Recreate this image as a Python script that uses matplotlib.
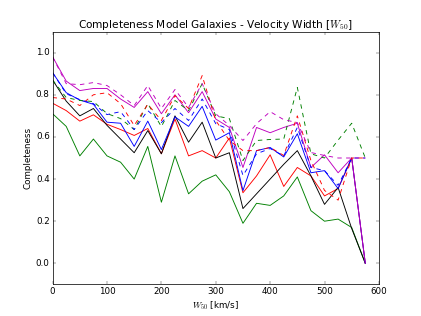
import matplotlib
matplotlib.use('Agg')
import matplotlib.pyplot as plt

plt.style.use('classic')

# velocity width bins [km/s]
w50 = [0, 25, 50, 75, 100, 125, 150, 175, 200, 225, 250, 275,
       300, 325, 350, 375, 400, 425, 450, 475, 500, 525, 550, 575]

# solid curves
green_solid = [0.71, 0.65, 0.51, 0.59, 0.51, 0.48, 0.40, 0.555, 0.29, 0.51, 0.33, 0.39,
               0.42, 0.34, 0.19, 0.285, 0.275, 0.32, 0.41, 0.25, 0.20, 0.21, 0.17, 0.0]
red_solid = [0.76, 0.725, 0.675, 0.705, 0.66, 0.635, 0.607, 0.64, 0.52, 0.685, 0.51, 0.535,
             0.50, 0.595, 0.335, 0.415, 0.515, 0.365, 0.455, 0.415, 0.32, 0.355, 0.5, 0.0]
black_solid = [0.87, 0.77, 0.70, 0.735, 0.655, 0.59, 0.525, 0.63, 0.52, 0.70, 0.575, 0.67,
               0.50, 0.525, 0.26, 0.33, 0.40, 0.47, 0.535, 0.415, 0.28, 0.36, 0.165, 0.0]
blue_solid = [0.905, 0.81, 0.775, 0.755, 0.67, 0.665, 0.555, 0.675, 0.54, 0.695, 0.65, 0.745,
              0.585, 0.62, 0.345, 0.535, 0.55, 0.505, 0.615, 0.43, 0.44, 0.355, 0.5, 0.0]
magenta_solid = [0.98, 0.865, 0.82, 0.83, 0.83, 0.78, 0.74, 0.815, 0.71, 0.80, 0.715, 0.815,
                 0.685, 0.645, 0.455, 0.645, 0.62, 0.645, 0.665, 0.455, 0.515, 0.43, 0.5, 0.0]

# dashed curves
green_dash = [0.87, 0.787, 0.773, 0.768, 0.711, 0.687, 0.635, 0.758, 0.649, 0.773, 0.725, 0.853,
              0.70, 0.687, 0.488, 0.583, 0.588, 0.59, 0.835, 0.52, 0.50, 0.585, 0.665, 0.5]
red_dash = [0.787, 0.78, 0.749, 0.80, 0.81, 0.758, 0.654, 0.755, 0.678, 0.796, 0.735, 0.891,
            0.678, 0.583, 0.535, 0.535, 0.55, 0.512, 0.70, 0.488, 0.346, 0.30, 0.5, 0.5]
blue_dash = [0.905, 0.805, 0.777, 0.758, 0.706, 0.72, 0.635, 0.725, 0.668, 0.735, 0.678, 0.78,
             0.663, 0.635, 0.417, 0.52, 0.545, 0.51, 0.645, 0.455, 0.44, 0.37, 0.5, 0.5]
magenta_dash = [0.98, 0.853, 0.848, 0.858, 0.844, 0.80, 0.749, 0.844, 0.735, 0.825, 0.74, 0.853,
                0.71, 0.654, 0.583, 0.663, 0.72, 0.682, 0.668, 0.526, 0.512, 0.50, 0.5, 0.5]

fig = plt.figure(figsize=(8, 6.0048), dpi=52.625)
ax = fig.add_subplot(111)

lw = 1.25
ax.plot(w50, green_solid, 'g-', lw=lw)
ax.plot(w50, red_solid, 'r-', lw=lw)
ax.plot(w50, black_solid, 'k-', lw=lw)
ax.plot(w50, blue_solid, 'b-', lw=lw)
ax.plot(w50, magenta_solid, 'm-', lw=lw)

ax.plot(w50, green_dash, 'g--', lw=lw)
ax.plot(w50, red_dash, 'r--', lw=lw)
ax.plot(w50, blue_dash, 'b--', lw=lw)
ax.plot(w50, magenta_dash, 'm--', lw=lw)

ax.set_xlim(0, 600)
ax.set_ylim(-0.1, 1.1)
ax.set_xticks([0, 100, 200, 300, 400, 500, 600])
ax.set_yticks([0.0, 0.2, 0.4, 0.6, 0.8, 1.0])

plt.title(r'Completeness Model Galaxies - Velocity Width [$W_{50}$]')
plt.xlabel(r'$W_{50}$ [km/s]')
plt.ylabel('Completeness')

plt.savefig('out.png', dpi=52.625)
